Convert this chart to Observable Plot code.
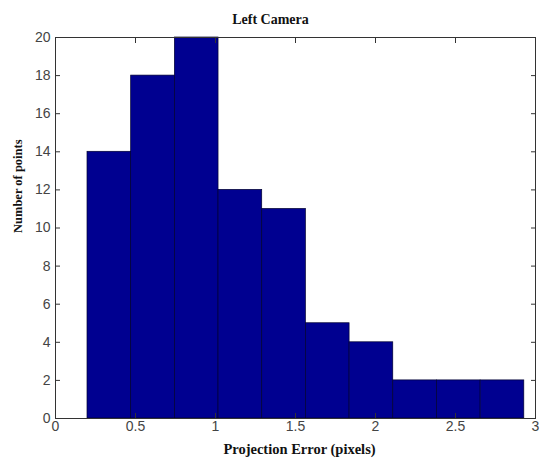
<!DOCTYPE html>
<html>
<head>
<meta charset="utf-8">
<script src="https://cdn.jsdelivr.net/npm/d3@7"></script>
<script src="https://cdn.jsdelivr.net/npm/@observablehq/plot@0.6"></script>
<style>
  html, body { margin: 0; padding: 0; background: #fff; }
  #chart svg { display: block; }
</style>
</head>
<body>
<div id="chart"></div>
<script>
// Histogram bin edges (pixels) and counts
const binEdges = [0.2, 0.473, 0.746, 1.019, 1.292, 1.565, 1.838, 2.111, 2.384, 2.657, 2.93];
const counts = [14, 18, 20, 12, 11, 5, 4, 2, 2, 2];
const xTicks = [0, 0.5, 1, 1.5, 2, 2.5, 3];
const yTicks = [0, 2, 4, 6, 8, 10, 12, 14, 16, 18, 20];
const titleText = "Left Camera";
const xLabel = "Projection Error (pixels)";
const yLabel = "Number of points";

const bins = counts.map((c, i) => ({x1: binEdges[i], x2: binEdges[i + 1], count: c}));

const tickFont = "'Liberation Sans', Arial, sans-serif";
const labelFont = "'Liberation Serif', 'Times New Roman', serif";

const chart = Plot.plot({
  width: 542,
  height: 460,
  marginLeft: 55,
  marginRight: 7,
  marginTop: 37,
  marginBottom: 42,
  style: {background: "#fff", overflow: "visible"},
  x: {domain: [0, 3], label: null},
  y: {domain: [0, 20], label: null},
  marks: [
    Plot.rectY(bins, {x1: "x1", x2: "x2", y: "count", fill: "#000090", stroke: "#000030", strokeWidth: 0.7}),
    Plot.frame({stroke: "#333", strokeWidth: 1}),
    // tick labels
    Plot.axisX({ticks: xTicks, tickSize: 0, tickPadding: 3, fontSize: 14, fontFamily: tickFont, color: "#444", tickFormat: d => String(d)}),
    Plot.axisY({ticks: yTicks, tickSize: 0, tickPadding: 5, fontSize: 14, fontFamily: tickFont, color: "#444", tickFormat: d => String(d)}),
    // inward ticks on all four sides
    Plot.axisX({ticks: xTicks, anchor: "bottom", tickSize: -5, text: null, stroke: "#333"}),
    Plot.axisX({ticks: xTicks, anchor: "top", tickSize: -5, text: null, stroke: "#333", label: null}),
    Plot.axisY({ticks: yTicks, anchor: "left", tickSize: -5, text: null, stroke: "#333"}),
    Plot.axisY({ticks: yTicks, anchor: "right", tickSize: -5, text: null, stroke: "#333", label: null}),
    // title and axis labels
    Plot.text([titleText], {frameAnchor: "top", dy: -14, dx: -25, lineAnchor: "bottom", fontWeight: "bold", fontFamily: labelFont, fontSize: 14, fill: "#111"}),
    Plot.text([xLabel], {frameAnchor: "bottom", dy: 35, dx: 4, lineAnchor: "bottom", fontWeight: "bold", fontFamily: labelFont, fontSize: 14.5, fill: "#111"}),
    Plot.text([yLabel], {frameAnchor: "left", dx: -38, dy: 5, rotate: -90, lineAnchor: "middle", fontWeight: "bold", fontFamily: labelFont, fontSize: 12.5, fill: "#111"})
  ]
});
document.getElementById("chart").appendChild(chart);
</script>
</body>
</html>
